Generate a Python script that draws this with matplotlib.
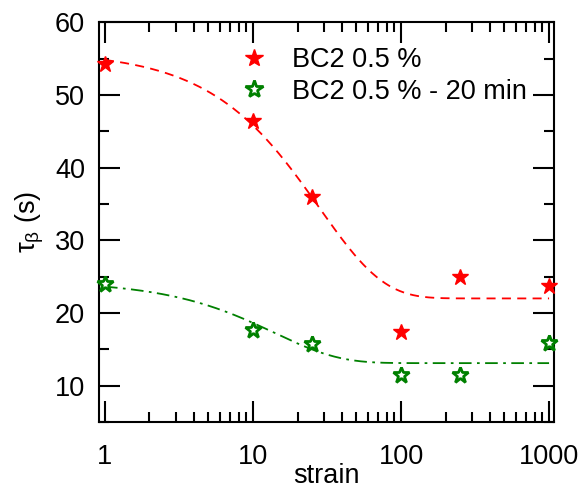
import numpy as np
import matplotlib
matplotlib.use("Agg")
import matplotlib.pyplot as plt
from matplotlib.ticker import LogLocator, MultipleLocator, FixedLocator, NullFormatter

plt.rcParams['font.family'] = ['Liberation Sans', 'DejaVu Sans']

# measured relaxation times
strain = [1, 10, 25, 100, 250, 1000]
tau_fresh = [54.3, 46.4, 35.9, 17.4, 25.0, 23.7]
tau_20min = [24.0, 17.6, 15.7, 11.5, 11.5, 15.8]

label_fresh = "BC2 0.5 %"
label_20min = "BC2 0.5 % - 20 min"

# exponential decay fits: tau = tau_inf + A * exp(-strain / strain_c)
fit_fresh = dict(tau_inf=22.0, A=34.0, strain_c=28.0)
fit_20min = dict(tau_inf=13.1, A=11.3, strain_c=14.0)

x_ticks = [1, 10, 100, 1000]
x_ticklabels = ["1", "10", "100", "1000"]
y_ticks = [10, 20, 30, 40, 50, 60]


def decay(x, tau_inf, A, strain_c):
    return tau_inf + A * np.exp(-x / strain_c)


fig = plt.figure(figsize=(5.82, 4.93), dpi=100)
ax = fig.add_axes([0.170, 0.144, 0.782, 0.811])

xs = np.logspace(np.log10(1.0), np.log10(1000), 400)
ax.plot(xs, decay(xs, **fit_fresh), color='#ff0000', lw=1.3, ls=(0, (5, 3.5)))
ax.plot(xs, decay(xs, **fit_20min), color='#008000', lw=1.3,
        ls=(0, (7, 3, 1.5, 3)))

ax.plot(strain, tau_fresh, ls='none', marker='*', ms=12, color='#ff0000',
        mec='#ff0000', label=label_fresh, clip_on=False, zorder=5)
ax.plot(strain, tau_20min, ls='none', marker='*', ms=12, mfc='white',
        mec='#008000', mew=2.0, label=label_20min, clip_on=False, zorder=5)

ax.set_xscale('log')
ax.set_xlim(0.911, 1081)
ax.set_ylim(5, 60)

ax.xaxis.set_major_locator(FixedLocator(x_ticks))
ax.set_xticklabels(x_ticklabels)
ax.xaxis.set_minor_locator(LogLocator(base=10, subs=np.arange(2, 10)))
ax.xaxis.set_minor_formatter(NullFormatter())
ax.yaxis.set_major_locator(FixedLocator(y_ticks))
ax.yaxis.set_minor_locator(MultipleLocator(5))

for s in ax.spines.values():
    s.set_linewidth(1.5)

ax.tick_params(which='both', direction='in', top=True, right=True, width=1.5,
               labelsize=19.5)
ax.tick_params(which='major', length=15)
ax.tick_params(which='minor', length=7.5)
ax.tick_params(axis='y', which='major', pad=10)
ax.tick_params(axis='x', which='major', pad=16)

ax.set_xlabel("strain", fontsize=19.5, labelpad=-5)
ax.set_ylabel(r"$\mathregular{\tau_\beta}$ (s)", fontsize=19.5, labelpad=6)

ax.legend(loc='upper left', bbox_to_anchor=(0.27, 0.985), frameon=False,
          fontsize=19.5, handlelength=1.0, handletextpad=0.9,
          labelspacing=0.2, borderaxespad=0.3, markerscale=1.1)

fig.savefig("out.png", dpi=100)
